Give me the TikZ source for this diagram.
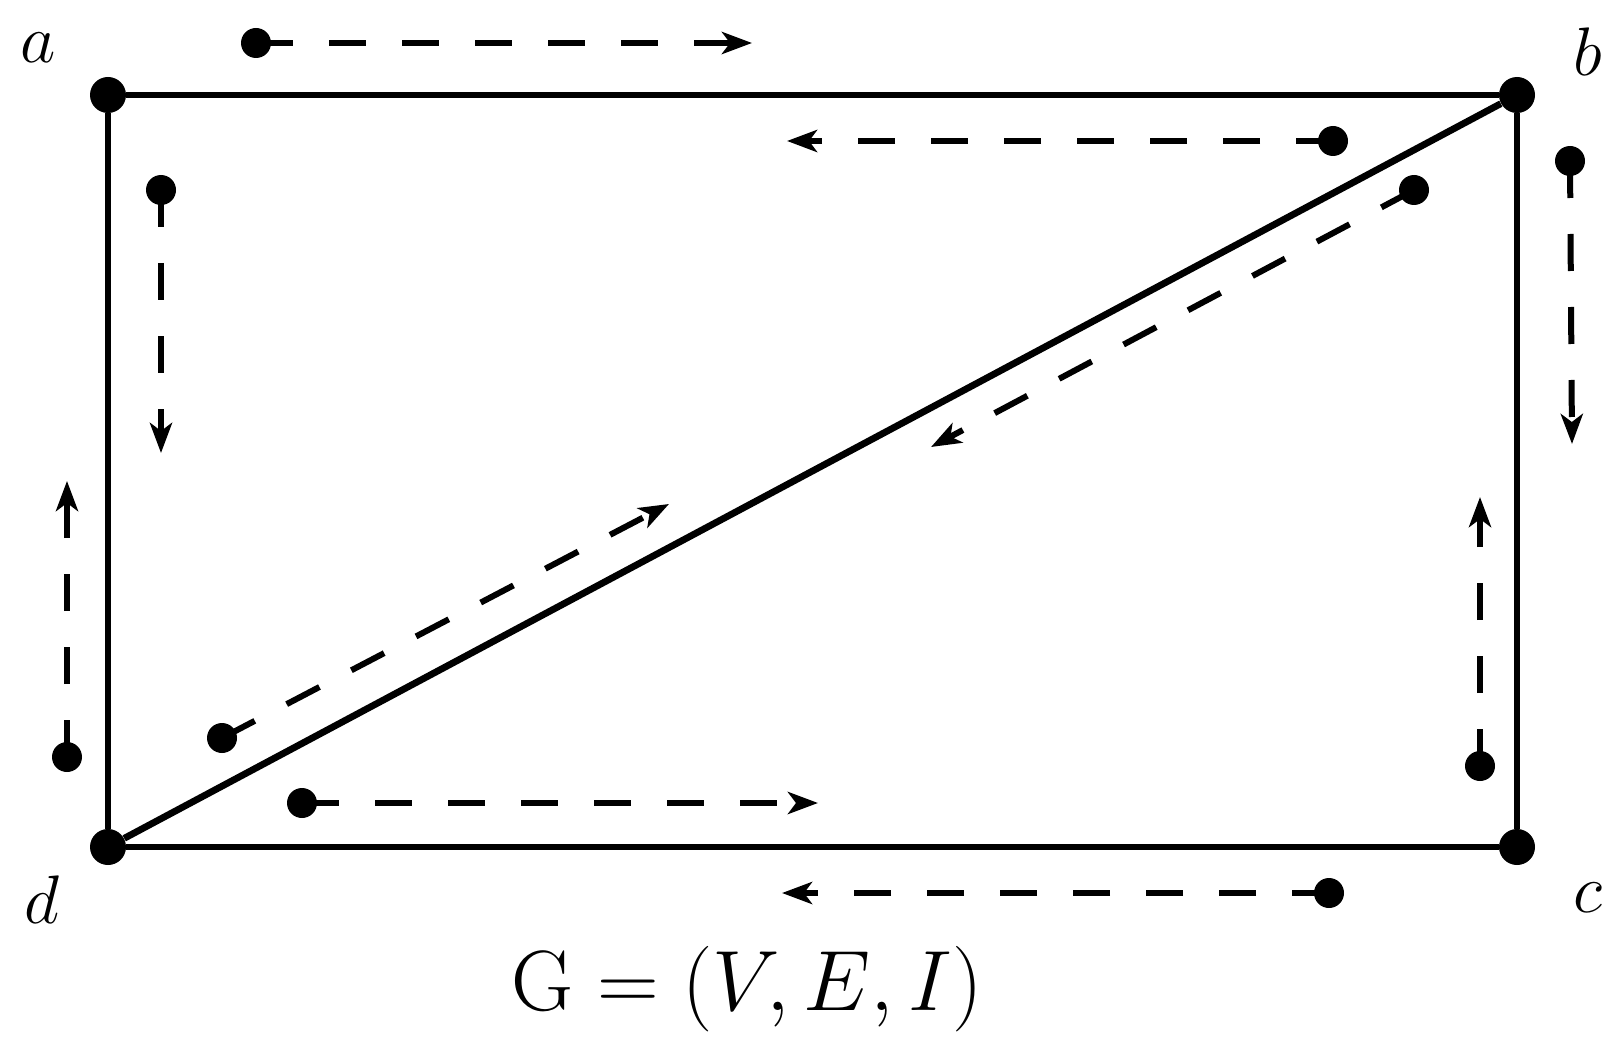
\documentclass[tikz,border=0pt]{standalone}
\usetikzlibrary{arrows.meta}
\tikzset{
  vertex/.style={circle,fill=black,inner sep=0pt,minimum size=18pt},
  tail/.style={circle,fill=black,inner sep=0pt,minimum size=15pt},
  edge/.style={line width=3.4pt},
  flow/.style={line width=3pt,dash pattern=on 18.5pt off 18pt,-{Stealth[length=15pt,width=11pt,inset=4pt]}},
  lbl/.style={inner sep=0.75pt,font=\Huge,scale=1.38},
}
\begin{document}
\begin{tikzpicture}[x=0.5pt,y=0.5pt,yscale=-1,xscale=1]
\useasboundingbox (0,0) rectangle (1611,1043);

% Vertices
\node [vertex] (a) at (108,95) {};
\node [vertex] (b) at (1517,95) {};
\node [vertex] (c) at (1517,847) {};
\node [vertex] (d) at (108,847) {};

% Edges
\draw [edge] (a) -- (b);
\draw [edge] (b) -- (c);
\draw [edge] (c) -- (d);
\draw [edge] (d) -- (a);
\draw [edge] (d) -- (b);

% Half-edges: tails and heads
\node [tail] (t1) at (256,43) {};   \coordinate (h1) at (752,43);
\node [tail] (t2) at (1333,141) {}; \coordinate (h2) at (787,141);
\node [tail] (t3) at (161,190) {};  \coordinate (h3) at (161,453);
\node [tail] (t4) at (67,757) {};   \coordinate (h4) at (67,481);
\node [tail] (t5) at (1570,161) {}; \coordinate (h5) at (1572,444);
\node [tail] (t6) at (1480,766) {}; \coordinate (h6) at (1480,497);
\node [tail] (t7) at (1414,190) {}; \coordinate (h7) at (931,447);
\node [tail] (t8) at (222,738) {};  \coordinate (h8) at (669,504);
\node [tail] (t9) at (302,803) {};  \coordinate (h9) at (818,803);
\node [tail] (t10) at (1329,893) {}; \coordinate (h10) at (782,893);

% Dashed arrows
\foreach \i in {1,...,10}
  \draw [flow] (t\i.center) -- (h\i);

% Text Node
\node [lbl] (la) at (38,48) {$a$};
\node [lbl] (lb) at (1588,52) {$b$};
\node [lbl] (lc) at (1588,898) {$c$};
\node [lbl] (ld) at (42,900) {$d$};
% Text Node
\node [anchor=base,inner sep=0.75pt,font=\Huge,scale=1.72] (graph) at (747,1010) {$\mathrm{G}=(V,E,I)$};

\end{tikzpicture}
\end{document}
